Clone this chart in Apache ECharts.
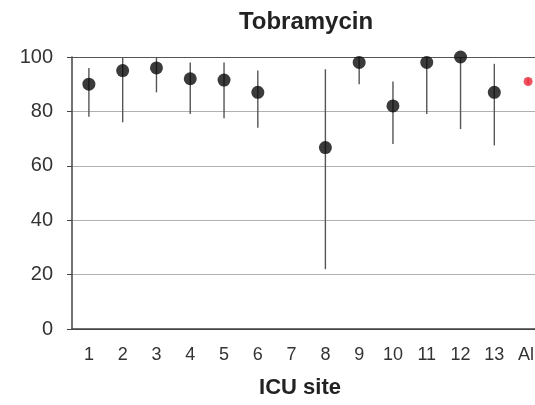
<!DOCTYPE html>
<html><head><meta charset="utf-8">
<script src="https://cdn.jsdelivr.net/npm/echarts@6/dist/echarts.min.js"></script>
<style>html,body{margin:0;padding:0;background:#fff;overflow:hidden}#c{width:545px;height:405px}</style>
</head><body><div id="c"></div>
<script>
const categories = ['1','2','3','4','5','6','7','8','9','10','11','12','13','All'];
const pointValues = [90, 95, 96, 92, 91.5, 87, null, 66.7, 98, 82, 98, 100, 87, null];
const lowerValues = [78, 76, 87, 79, 77.5, 74, null, 22, 90, 68, 79, 73.5, 67.5, null];
const upperValues = [96, 100, 100, 98, 98, 95, null, 95.5, 100, 91, 100, 100, 97.5, null];
const allValue = [null, null, null, null, null, null, null, null, null, null, null, null, null, 91];
const allLower = 90;
const allUpper = 92;
const yTicks = [0, 20, 40, 60, 80, 100];

const errData = categories.map((c, i) => i === 13 ? [i, allLower, allUpper] : [i, lowerValues[i], upperValues[i]]).filter(d => d[1] != null);

const chart = echarts.init(document.getElementById('c'));
chart.setOption({
  animation: false,
  title: { text: 'Tobramycin', left: 301, top: 5, textAlign: 'center',
    textStyle: { fontFamily: 'Liberation Sans', fontSize: 24, fontWeight: 'bold', color: '#222' } },
  grid: { left: 72, top: 57, bottom: 76, right: 0 },
  xAxis: {
    type: 'category', data: categories, boundaryGap: true,
    name: 'ICU site', nameLocation: 'middle', nameGap: 48,
    nameTextStyle: { fontFamily: 'Liberation Sans', fontSize: 22, fontWeight: 'bold', color: '#222', padding: [0, 17, 0, 0] },
    axisLine: { lineStyle: { color: '#444', width: 1.5 } },
    axisTick: { alignWithLabel: false, length: 5, lineStyle: { color: '#444' } },
    axisLabel: { fontFamily: 'Liberation Sans', fontSize: 18, color: '#333', margin: 17, interval: 0 }
  },
  yAxis: {
    type: 'value', min: 0, max: 100, interval: 20,
    axisLine: { show: true, lineStyle: { color: '#444', width: 1.5 } },
    axisTick: { show: true, length: 5, lineStyle: { color: '#444' } },
    axisLabel: { fontFamily: 'Liberation Sans', fontSize: 20, color: '#333', margin: 19,
      formatter: v => yTicks.includes(v) ? String(v) : '' },
    splitLine: { show: true, lineStyle: { color: ['#444', '#b0b0b0', '#b0b0b0', '#b0b0b0', '#b0b0b0', '#555'], width: 1.2 } }
  },
  series: [
    {
      type: 'custom', data: errData, z: 1,
      renderItem: (params, api) => {
        const p1 = api.coord([api.value(0), api.value(1)]);
        const p2 = api.coord([api.value(0), api.value(2)]);
        return { type: 'line', shape: { x1: p1[0], y1: p1[1], x2: p2[0], y2: p2[1] },
          style: { stroke: api.value(0) === 13 ? '#e83040' : '#555', lineWidth: 1.4 } };
      }
    },
    { type: 'scatter', data: pointValues, symbolSize: 13, itemStyle: { color: '#0a0a0a' }, z: 3 },
    { type: 'scatter', data: allValue, symbolSize: 9, itemStyle: { color: '#e8283a' }, z: 3 }
  ]
});
</script></body></html>
